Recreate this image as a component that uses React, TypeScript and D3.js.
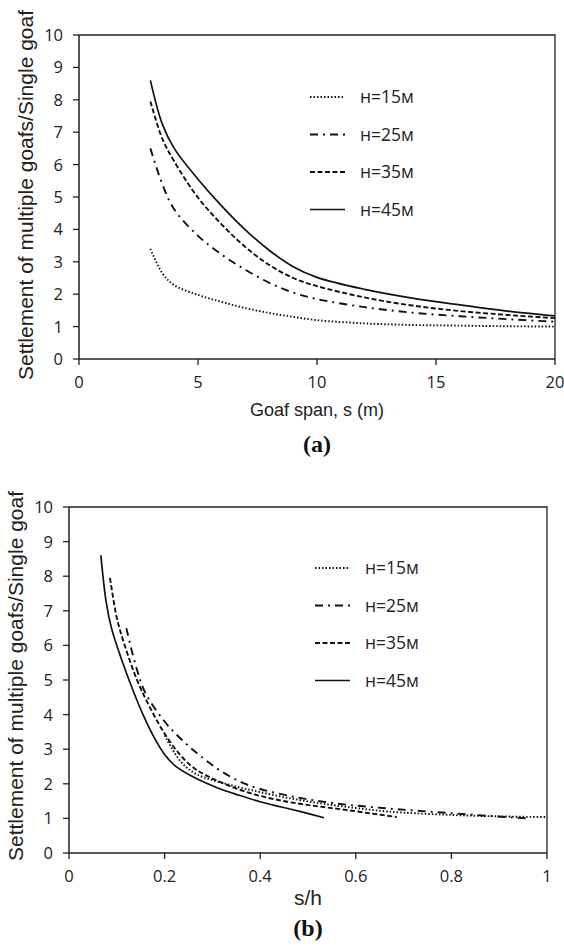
import React from 'react';
import * as d3 from 'd3';

// goaf span s (m) at which each curve was read
const span = [3, 3.5, 4, 5, 6, 7, 8, 9, 10, 12, 14, 16, 18, 20, 22, 24];

// settlement ratio (multiple goafs / single goaf)
const h15 = [3.4, 2.65, 2.28, 1.98, 1.76, 1.57, 1.42, 1.3, 1.2, 1.1, 1.05, 1.03, 1.01, 1.0, 0.99, 0.98];
const h25 = [6.5, 5.4, 4.62, 3.8, 3.22, 2.75, 2.35, 2.05, 1.85, 1.6, 1.43, 1.32, 1.23, 1.15, 1.07, 1.0];
const h35 = [7.95, 6.8, 6.1, 4.98, 4.15, 3.45, 2.9, 2.5, 2.25, 1.9, 1.65, 1.48, 1.36, 1.26, 1.15, 1.04];
const h45 = [8.6, 7.25, 6.5, 5.55, 4.72, 3.98, 3.35, 2.85, 2.52, 2.15, 1.88, 1.67, 1.48, 1.33, 1.18, 1.02];

const depths = [15, 25, 35, 45];
const labels = ['н=15м', 'н=25м', 'н=35м', 'н=45м'];
const ratios = [h15, h25, h35, h45];

const xTicksA = [0, 5, 10, 15, 20];
const xTicksB = [0, 0.2, 0.4, 0.6, 0.8, 1];
const yTicks = [0, 1, 2, 3, 4, 5, 6, 7, 8, 9, 10];

const dashes = ['1.5,2', '8,5,2,5', '5,2.5', null];
const ink = '#111';
const axisInk = '#222';

type PanelProps = {
  id: string;
  xDomain: [number, number];
  xRange: [number, number];
  yRange: [number, number];
  xTicks: number[];
  normalise: boolean;
  xTitle: string;
  xTitleY: number;
  xTitleSize: number;
  tag: string;
  tagY: number;
  yTitleX: number;
  yTitleMid: number;
  legendX: number;
  legendY: number;
};

const Panel = (p: PanelProps) => {
  const x = d3.scaleLinear().domain(p.xDomain).range(p.xRange);
  const y = d3.scaleLinear().domain([0, 10]).range(p.yRange);
  const [x0, x1] = p.xRange;
  const [yb, yt] = p.yRange;

  const line = d3
    .line<[number, number]>()
    .x((d) => x(d[0]))
    .y((d) => y(d[1]))
    .curve(d3.curveCatmullRom.alpha(0.5));

  return (
    <g>
      <defs>
        <clipPath id={p.id}>
          <rect x={x0} y={yt - 5} width={x1 - x0} height={yb - yt + 5} />
        </clipPath>
      </defs>

      {/* frame */}
      <path d={`M${x0},${yt}H${x1}V${yb}`} fill="none" stroke={axisInk} strokeWidth={1.3} />
      <line x1={x0} x2={x0} y1={yt} y2={yb + 0.5} stroke={axisInk} strokeWidth={1.5} />
      <line x1={x0} x2={x1} y1={yb} y2={yb} stroke={axisInk} strokeWidth={1.5} />

      {yTicks.map((t) => (
        <g key={'y' + t}>
          <line x1={x0 - 6} x2={x0} y1={y(t)} y2={y(t)} stroke={axisInk} strokeWidth={1.3} />
          <text
            x={x0 - 16}
            y={y(t) + 6}
            textAnchor="end"
            fontFamily="'Open Sans', sans-serif"
            fontSize={16.5}
            fill="#222"
          >
            {t}
          </text>
        </g>
      ))}
      {p.xTicks.map((t) => (
        <g key={'x' + t}>
          <line x1={x(t)} x2={x(t)} y1={yb} y2={yb + 6} stroke={axisInk} strokeWidth={1.3} />
          <text
            x={x(t)}
            y={yb + 29}
            textAnchor="middle"
            fontFamily="'Open Sans', sans-serif"
            fontSize={16.5}
            fill="#222"
          >
            {String(t)}
          </text>
        </g>
      ))}

      <g clipPath={`url(#${p.id})`}>
        {ratios.map((r, i) => {
          const pts = span.map((s, k) => [p.normalise ? s / depths[i] : s, r[k]] as [number, number]);
          return (
            <path
              key={labels[i]}
              d={line(pts) || ''}
              fill="none"
              stroke={ink}
              strokeWidth={i === 3 ? 1.7 : 1.9}
              strokeDasharray={dashes[i] || undefined}
            />
          );
        })}
      </g>

      {labels.map((lab, i) => (
        <g key={'lg' + i} transform={`translate(${p.legendX},${p.legendY + i * 37.5})`}>
          <line
            x1={0}
            x2={35}
            y1={0}
            y2={0}
            stroke={ink}
            strokeWidth={i === 3 ? 1.7 : 1.9}
            strokeDasharray={dashes[i] || undefined}
          />
          <text x={50} y={6} fontFamily="'Open Sans', sans-serif" fontSize={17.5} fill="#222">
            {lab}
          </text>
        </g>
      ))}

      <text
        transform={`translate(${p.yTitleX},${p.yTitleMid}) rotate(-90)`}
        textAnchor="middle"
        fontFamily="'Liberation Sans', Arial, sans-serif"
        fontSize={21}
        fill="#222"
      >
        Settlement of multiple goafs/Single goaf
      </text>
      <text
        x={(x0 + x1) / 2}
        y={p.xTitleY}
        textAnchor="middle"
        fontFamily="'Liberation Sans', Arial, sans-serif"
        fontSize={p.xTitleSize}
        fill="#222"
      >
        {p.xTitle}
      </text>
      <text
        x={(x0 + x1) / 2}
        y={p.tagY}
        textAnchor="middle"
        fontFamily="'Liberation Serif', 'Times New Roman', serif"
        fontWeight="bold"
        fontSize={24}
        fill="#111"
      >
        {p.tag}
      </text>
    </g>
  );
};

const App = () => {
  return (
    <svg width={564} height={947} style={{ position: 'absolute', left: 0, top: 0, background: '#fff' }}>
      <rect width={564} height={947} fill="#fff" />
      <Panel
        id="clipA"
        xDomain={[0, 20]}
        xRange={[79, 555]}
        yRange={[359, 35]}
        xTicks={xTicksA}
        normalise={false}
        xTitle="Goaf span, s (m)"
        xTitleY={416}
        xTitleSize={18}
        tag="(a)"
        tagY={452}
        yTitleX={33}
        yTitleMid={195}
        legendX={310}
        legendY={97}
      />
      <Panel
        id="clipB"
        xDomain={[0, 1]}
        xRange={[69, 547]}
        yRange={[853, 507]}
        xTicks={xTicksB}
        normalise={true}
        xTitle="s/h"
        xTitleY={905}
        xTitleSize={21}
        tag="(b)"
        tagY={936}
        yTitleX={23}
        yTitleMid={676}
        legendX={315}
        legendY={568}
      />
    </svg>
  );
};

export default App;
